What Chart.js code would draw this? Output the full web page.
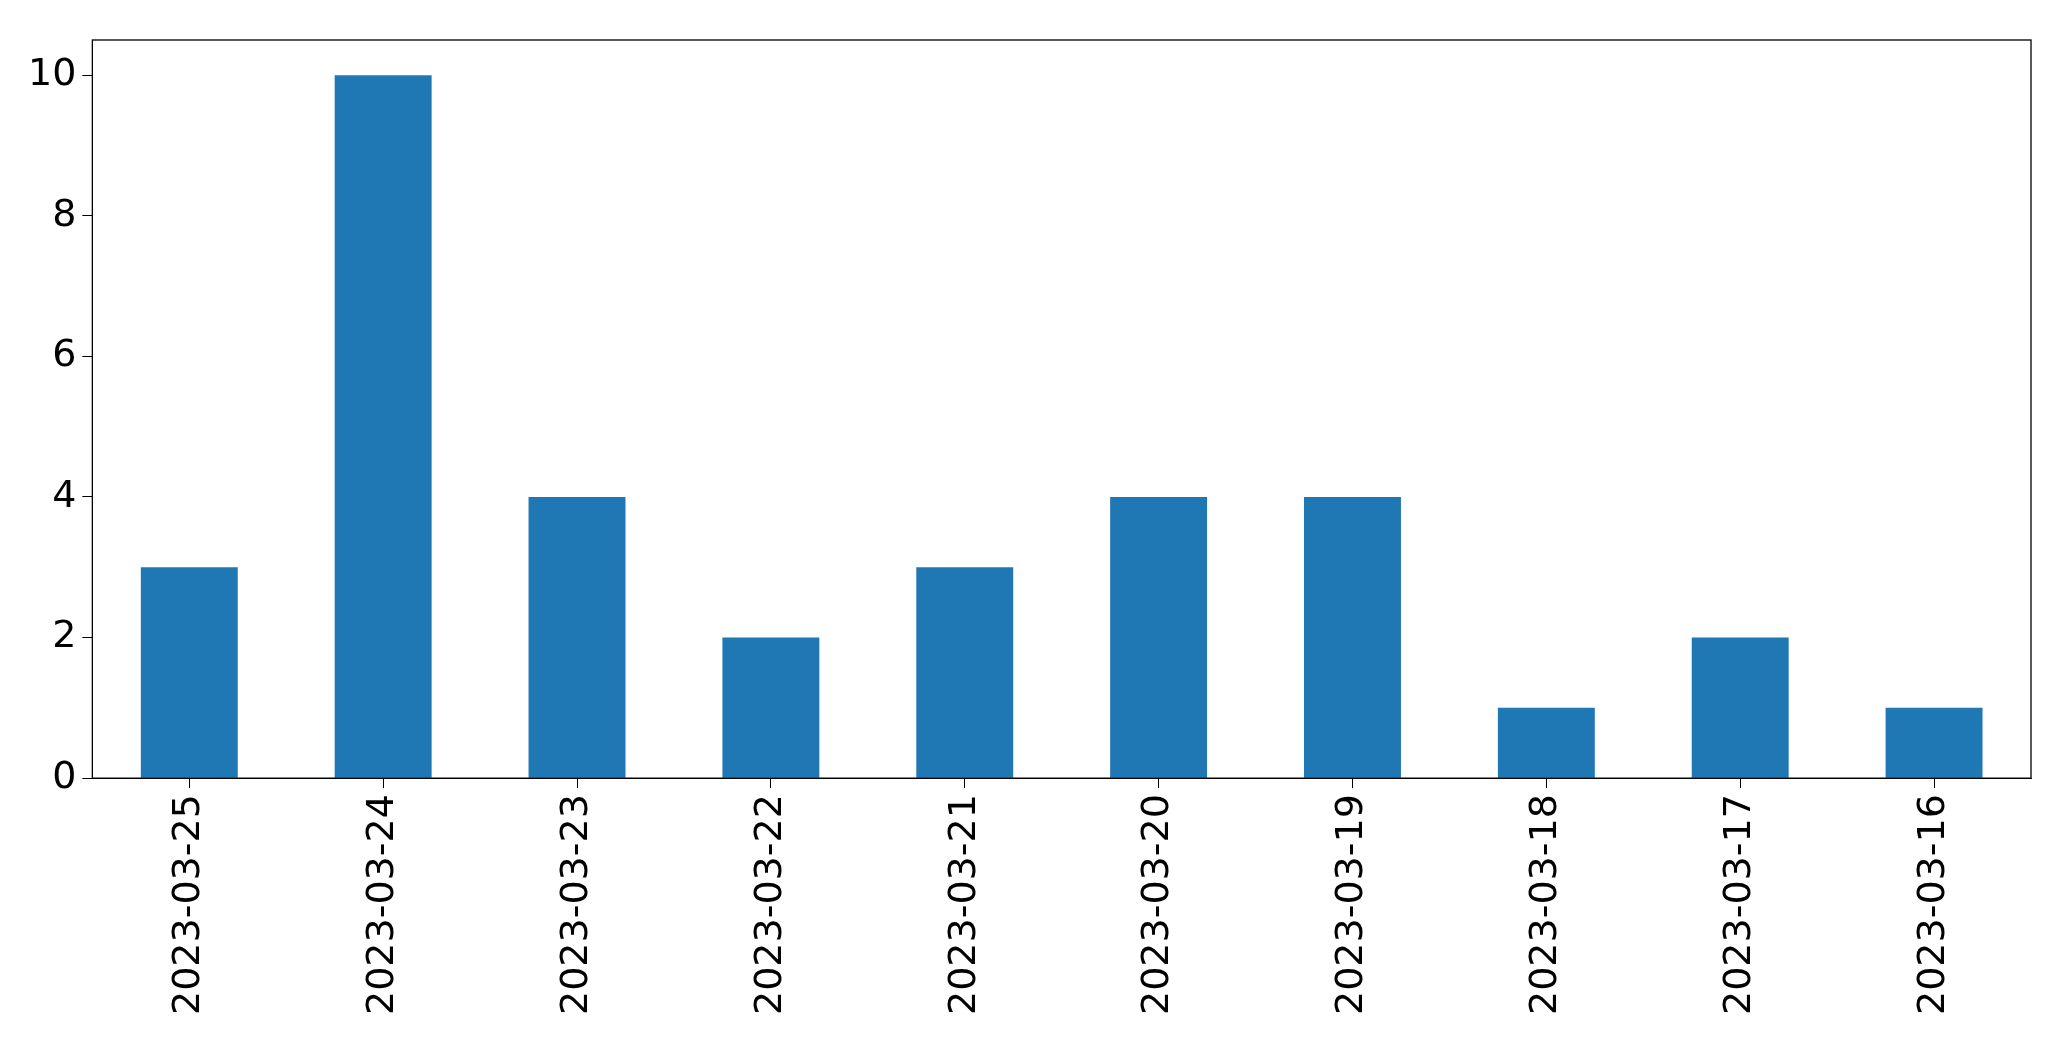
<!DOCTYPE html>
<html>
<head>
<meta charset="utf-8">
<script src="https://cdn.jsdelivr.net/npm/chart.js@4/dist/chart.umd.min.js"></script>
<style>
  html, body { margin: 0; padding: 0; background: #fff; }
  #wrap { width: 2071px; height: 1061px; }
</style>
</head>
<body>
<div id="wrap"><canvas id="barChart"></canvas></div>
<script>
const dates = ["2023-03-25", "2023-03-24", "2023-03-23", "2023-03-22", "2023-03-21",
               "2023-03-20", "2023-03-19", "2023-03-18", "2023-03-17", "2023-03-16"];
const counts = [3, 10, 4, 2, 3, 4, 4, 1, 2, 1];
const yTicks = [0, 2, 4, 6, 8, 10];

// draw the full box around the plot area like matplotlib
const frame = {
  id: "frame",
  afterDraw(chart) {
    const { ctx, chartArea: a } = chart;
    ctx.save();
    ctx.strokeStyle = "#000";
    ctx.lineWidth = 1.3;
    ctx.strokeRect(a.left, a.top, a.right - a.left, a.bottom - a.top);
    ctx.restore();
  },
};

new Chart(document.getElementById("barChart"), {
  type: "bar",
  data: {
    labels: dates,
    datasets: [{ data: counts, backgroundColor: "#1f77b4", barPercentage: 0.5, categoryPercentage: 1 }],
  },
  options: {
    responsive: true,
    maintainAspectRatio: false,
    animation: false,
    layout: { padding: { left: 22, right: 40, top: 40, bottom: 40 } },
    plugins: { legend: { display: false }, tooltip: { enabled: false } },
    scales: {
      x: {
        offset: true,
        grid: { drawOnChartArea: false, color: "#000", tickLength: 10, offset: false },
        border: { color: "#000" },
        ticks: { color: "#000", font: { family: "DejaVu Sans", size: 38 }, maxRotation: 90, minRotation: 90, padding: 6 },
      },
      y: {
        min: 0,
        max: 10.5,
        afterBuildTicks(axis) { axis.ticks = yTicks.map((v) => ({ value: v })); },
        grid: { drawOnChartArea: false, color: "#000", tickLength: 10 },
        border: { color: "#000" },
        ticks: { color: "#000", font: { family: "DejaVu Sans", size: 38 }, padding: 6 },
      },
    },
  },
  plugins: [frame],
});
</script>
</body>
</html>
